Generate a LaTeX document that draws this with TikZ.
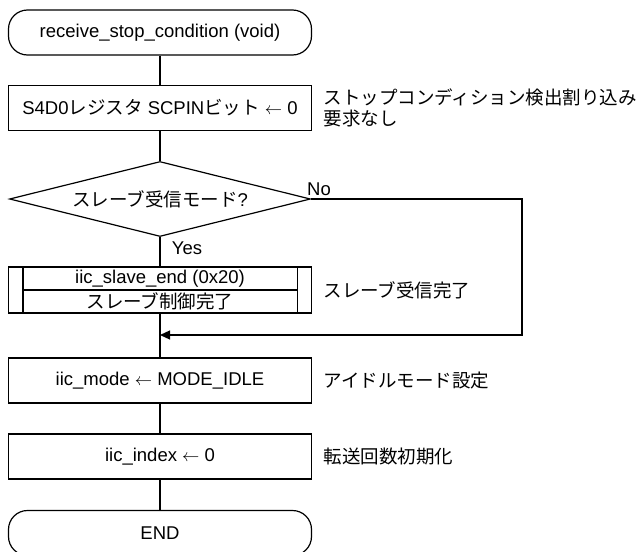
\documentclass[tikz,border=0pt]{standalone}
\usepackage{fontspec}
\setmainfont{Liberation Sans}
\newfontfamily\jp{Noto Sans CJK JP}
\usetikzlibrary{shapes.geometric,arrows.meta}

\begin{document}
\begin{tikzpicture}[x=1pt,y=-1pt,line width=1.2pt,
  font=\fontsize{18.5}{20.5}\selectfont,
  term/.style={draw,rectangle,rounded corners=19pt,minimum width=303pt,minimum height=45pt,inner sep=0pt},
  proc/.style={draw,rectangle,minimum width=303pt,minimum height=45pt,inner sep=0pt},
  cond/.style={draw,diamond,aspect=4,minimum width=301pt,minimum height=75pt,inner sep=0pt},
  note/.style={anchor=west,inner sep=0pt,align=left,font=\fontsize{18.5}{20.5}\selectfont\jp},
  noline/.style={-{Triangle[length=10pt,width=9pt]}}]
\useasboundingbox (0,0) rectangle (638,552);
%%%%%%%%%%%%%%%%%%%%%%%%%%%%%%%%
%% main column
%%%%%%%%%%%%%%%%%%%%%%%%%%%%%%%%
\node[term] (start) at (160,32.5) {receive\_stop\_condition (void)};
\node[proc] (scpin) at (160,108) {S4D0{\jp レジスタ} SCPIN{\jp ビット} $\leftarrow$ 0};
\node[cond] (slv) at (160,199) {{\jp スレーブ受信モード}?};
\node[proc,minimum height=46pt] (slvend) at (160,290) {};
\draw ([xshift=15pt]slvend.north west) -- ([xshift=15pt]slvend.south west);
\draw ([xshift=-15pt]slvend.north east) -- ([xshift=-15pt]slvend.south east);
\draw ([xshift=15pt]slvend.west) -- ([xshift=-15pt]slvend.east);
\node (slvendA) at (160,278.5) {iic\_slave\_end (0x20)};
\node[font=\fontsize{18.5}{20.5}\selectfont\jp] (slvendB) at (160,301.5) {スレーブ制御完了};
\node[proc] (mode) at (160,380.5) {iic\_mode $\leftarrow$ MODE\_IDLE};
\node[proc] (idx) at (160,456.5) {iic\_index $\leftarrow$ 0};
\node[term] (fin) at (160,533) {END};
%
\draw (start) -- (scpin);
\draw (scpin) -- (slv);
\draw (slv) -- (slvend);
\draw (slvend) -- (mode);
\draw (mode) -- (idx);
\draw (idx) -- (fin);
%%%%%%%%%%%%%%%%%%%%%%%%%%%%%%%%
%% No branch
%%%%%%%%%%%%%%%%%%%%%%%%%%%%%%%%
\coordinate (merge) at (160,335);
\coordinate (noturn) at (522,199);
\draw[noline] (slv.east) -- (noturn) -- (noturn |- merge) -- (merge);
\node (no) at (319,189) {No};
\node (yes) at (187,248) {Yes};
%%%%%%%%%%%%%%%%%%%%%%%%%%%%%%%%
%% notes
%%%%%%%%%%%%%%%%%%%%%%%%%%%%%%%%
\node[note] (n1) at (323,108) {ストップコンディション検出割り込み\\要求なし};
\node[note] (n2) at (323,290) {スレーブ受信完了};
\node[note] (n3) at (323,380.5) {アイドルモード設定};
\node[note] (n4) at (323,456.5) {転送回数初期化};
\end{tikzpicture}
\end{document}
